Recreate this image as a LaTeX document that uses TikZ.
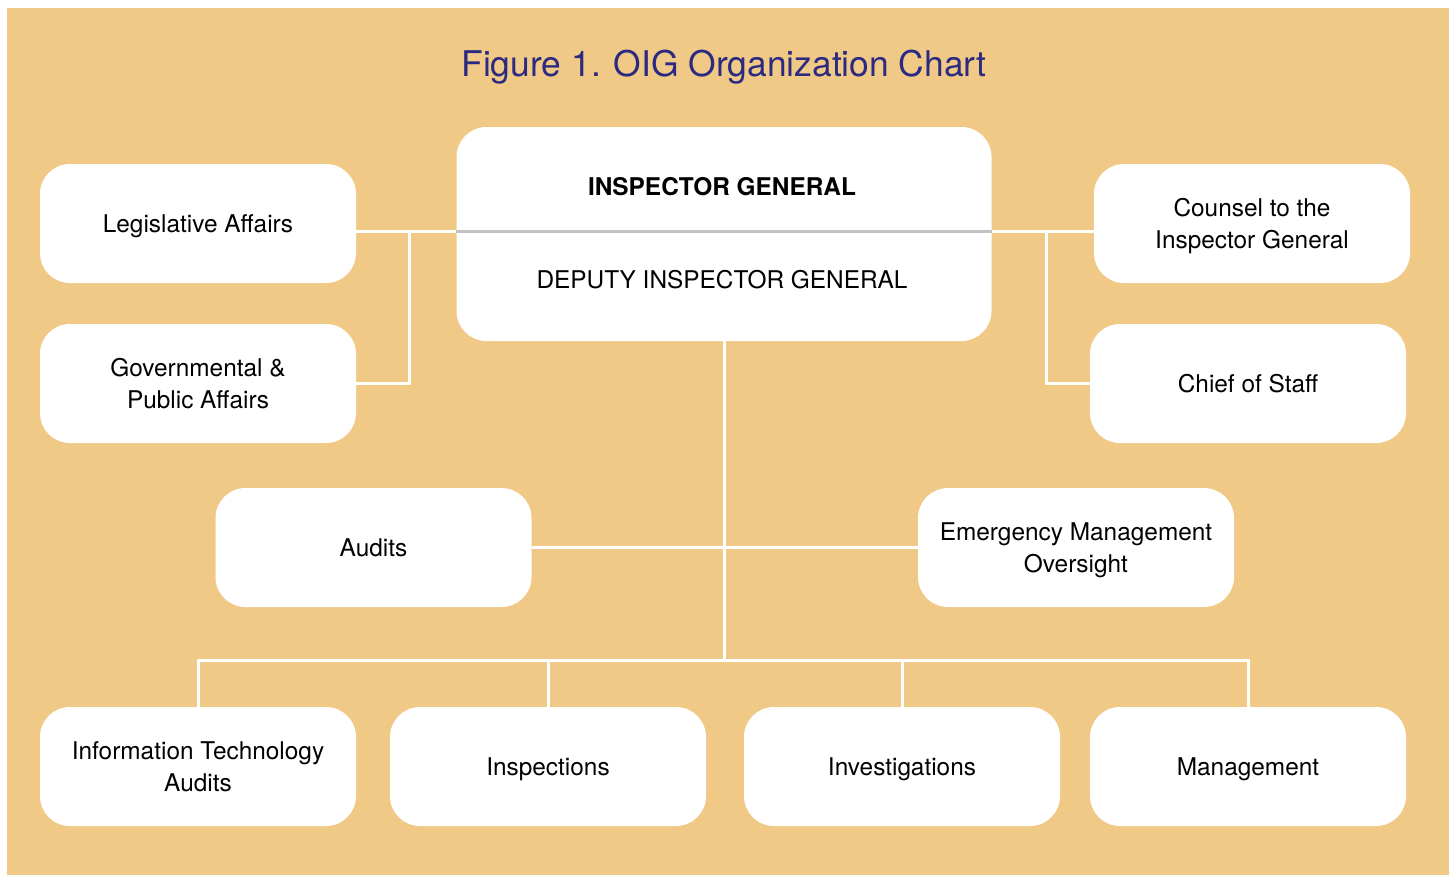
\documentclass[tikz,border=0pt]{standalone}
\usepackage{fontspec}
\setmainfont{TeX Gyre Heros}
\definecolor{chartbg}{HTML}{F0C987}
\definecolor{titleblue}{HTML}{2B2A80}
\definecolor{divider}{HTML}{C2C2C2}

\begin{document}
\begin{tikzpicture}[x=0.5pt,y=-0.5pt,
        office/.style={fill=white, rounded corners=15pt, minimum width=158pt,
            minimum height=59.5pt, inner sep=0pt, align=center, text depth=0pt,
            font=\fontsize{12.2}{16}\selectfont},
        link/.style={white, line width=1.5pt}]
        \useasboundingbox (0,0) rectangle (1449,875);
        \fill[white] (0,0) rectangle (1449,875);
        \fill[chartbg] (7,8) rectangle (1449,875);

        \node[text=titleblue, font=\fontsize{17.7}{21}\selectfont] (title) at (724,67) {Figure 1. OIG Organization Chart};

        % top office
        \node[fill=white, rounded corners=15pt, minimum width=267.5pt, minimum height=107pt] (ig) at (724,234) {};
        \draw[divider, line width=1.5pt] ([yshift=1.5pt]ig.west) -- ([yshift=1.5pt]ig.east);
        \node[font=\fontsize{12.2}{16}\selectfont\bfseries, text depth=0pt] (igname) at (722,186) {INSPECTOR GENERAL};
        \node[font=\fontsize{12.2}{16}\selectfont, text depth=0pt] (deputy) at (722,279) {DEPUTY INSPECTOR GENERAL};

        % staff offices
        \node[office] (legis) at (198,223.5) {Legislative Affairs};
        \node[office] (gov) at (198,383.5) {Governmental \&\\Public Affairs};
        \node[office] (counsel) at (1252,223.5) {Counsel to the\\Inspector General};
        \node[office] (chief) at (1248,383.5) {Chief of Staff};
        \node[office] (audits) at (373.5,547.5) {Audits};
        \node[office] (emo) at (1076,547.5) {Emergency Management\\Oversight};

        \foreach \name/\x/\txt in {ita/198/{Information Technology\\Audits},
            insp/548/Inspections, inv/902/Investigations, mgmt/1248/Management}{
            \node[office] (\name) at (\x,766.5) {\txt};
        }

        % connectors
        \coordinate (leftbar) at (409,231);
        \coordinate (rightbar) at (1046,231);
        \coordinate (bus) at (724,660);
        \draw[link] (legis.east |- leftbar) -- (ig.west |- leftbar);
        \draw[link] (leftbar) |- (gov.east);
        \draw[link] (ig.east |- rightbar) -- (counsel.west |- rightbar);
        \draw[link] (rightbar) |- (chief.west);
        \draw[link] (ig.south) -- (bus);
        \draw[link] (audits.east) -- (emo.west);
        \draw[link] (ita.north) |- (bus) -| (mgmt.north);
        \foreach \name in {insp,inv}{
            \draw[link] (\name.north) -- (\name.north |- bus);
        }
    \end{tikzpicture}
\end{document}
